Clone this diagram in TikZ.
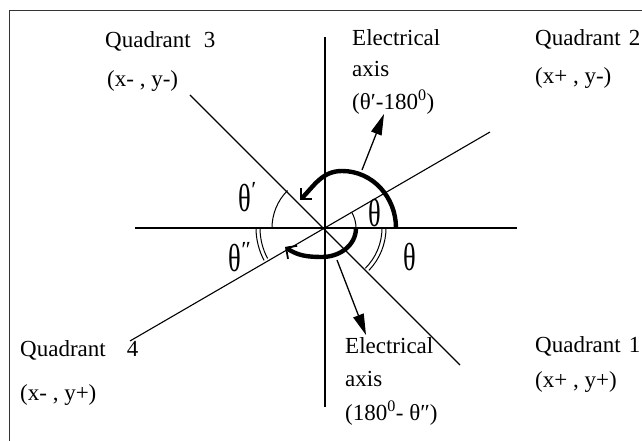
\documentclass[tikz,border=0pt]{standalone}
\usepackage{fontspec}
\setmainfont{Liberation Serif}
\usetikzlibrary{arrows.meta,calc}
\begin{document}
\begin{tikzpicture}[x=1pt,y=1pt,
  axisline/.style={line width=1.1pt},
  thinarc/.style={line width=1pt},
  turn/.style={line width=4.4pt, -{Straight Barb[length=8pt,width=16pt,line width=1.8pt]}},
  eaxis/.style={line width=1.3pt, -{Triangle[length=21pt,width=11pt]}},
  lbl/.style={font=\fontsize{23}{27}\selectfont, inner sep=0pt, anchor=base west},
  ang/.style={font=\fontsize{23}{27}\selectfont, inner sep=0pt}]
\useasboundingbox (0,0) rectangle (642,441);
% frame
\coordinate (F1) at (9,0); \coordinate (F2) at (9,431); \coordinate (F3) at (642,431);
\draw[line width=0.9pt, black!80] (F1) -- (F2) -- (F3);
% axes
\coordinate (O) at (325,213);
\coordinate (hL) at (135,213); \coordinate (hR) at (517,213);
\coordinate (vT) at (325,404); \coordinate (vB) at (325,34);
\coordinate (aUR) at (490,309); \coordinate (aLL) at (130,100);
\coordinate (bUL) at (190,346); \coordinate (bLR) at (460,76);
\draw[axisline] (hL) -- (hR);
\draw[axisline] (vT) -- (vB);
\draw[axisline] (aLL) -- (aUR);
\draw[axisline] (bUL) -- (bLR);
% angle arcs
\draw[thinarc] ([shift={(135:53)}]O) arc[start angle=135,end angle=180,radius=53];
\draw[thinarc] ([shift={(180:65)}]O) arc[start angle=180,end angle=208,radius=65];
\draw[thinarc] ([shift={(180:69)}]O) arc[start angle=180,end angle=208,radius=69];
\draw[thinarc] ([shift={(0:57)}]O) arc[start angle=0,end angle=-45,radius=57];
\draw[thinarc] ([shift={(0:61)}]O) arc[start angle=0,end angle=-44,radius=61];
\draw[thinarc] ([shift={(30:31)}]O) arc[start angle=30,end angle=0,radius=31];
% turning arrows
\coordinate (u0) at (396,213); \coordinate (u1) at (342,270); \coordinate (u2) at (300,241);
\draw[turn] (u0) to[out=90,in=0] (u1) to[out=180,in=45] (u2);
\coordinate (l0) at (356,213); \coordinate (l1) at (322,184); \coordinate (l2) at (285,194);
\draw[turn] (l0) to[out=-90,in=0] (l1) to[out=180,in=-35] (l2);
% electrical axis arrows
\coordinate (e1s) at (362,271); \coordinate (e1t) at (384,327);
\draw[eaxis] (e1s) -- (e1t);
\coordinate (e2s) at (337,181); \coordinate (e2t) at (366,106);
\draw[eaxis] (e2s) -- (e2t);
% angle labels
\node[ang] (t1) at (375,228) {\scalebox{1.15}[1.7]{θ}};
\node[ang] (t2) at (410,184) {\scalebox{1.15}[1.7]{θ}};
\node[ang] (t3) at (245,244) {\scalebox{1.15}[1.7]{θ}\rlap{\raisebox{14pt}{′}}};
\node[ang] (t4) at (235,184) {\scalebox{1.15}[1.7]{θ}\rlap{\raisebox{14pt}{″}}};
% texts
\node[lbl] (q3) at (105,393) {Quadrant\hspace{13pt}3};
\node[lbl] (q3c) at (107,354) {(x- , y-)};
\node[lbl] (ea1) at (352,395) {Electrical};
\node[lbl] (ea2) at (352,364) {axis};
\node[lbl] (ea3) at (352,331) {(θ′-180\textsuperscript{0})};
\node[lbl] (q2) at (535,395) {Quadrant\hspace{8pt}2};
\node[lbl] (q2c) at (535,357) {(x+ , y-)};
\node[lbl] (q4) at (20,84) {Quadrant\hspace{21pt}4};
\node[lbl] (q4c) at (20,40) {(x- , y+)};
\node[lbl] (eb1) at (345,87) {Electrical};
\node[lbl] (eb2) at (345,54) {axis};
\node[lbl] (eb3) at (345,20) {(180\textsuperscript{0}- θ″)};
\node[lbl] (q1) at (535,88) {Quadrant\hspace{8pt}1};
\node[lbl] (q1c) at (535,53) {(x+ , y+)};
\end{tikzpicture}
\end{document}
